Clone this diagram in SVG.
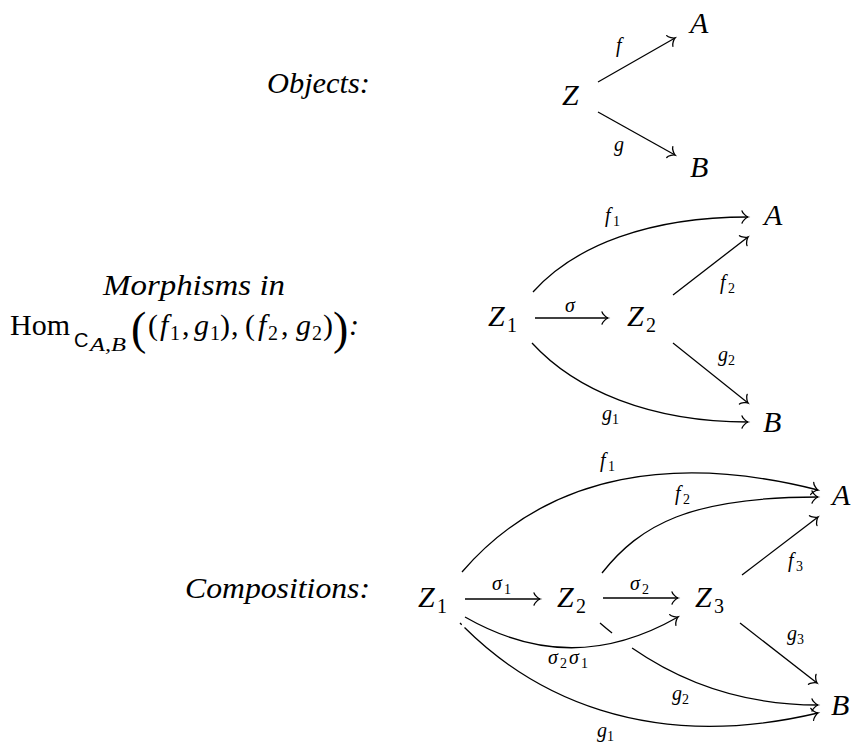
<svg xmlns="http://www.w3.org/2000/svg" width="859" height="747" viewBox="0 0 859 747">
<style>
text{font-family:"Liberation Serif","Times New Roman",serif;fill:#000}
.it{font-style:italic}
.node{font-size:30px;font-style:italic}
.sub{font-size:20px;font-style:normal}
.lab{font-size:20px;font-style:italic}
.lsub{font-size:14px;font-style:normal}
.head{font-size:29px;font-style:italic}
.edge{fill:none;stroke:#000;stroke-width:1.3}
.arr{marker-end:url(#to)}
</style>
<defs>
<marker id="to" markerUnits="userSpaceOnUse" markerWidth="20" markerHeight="20" viewBox="-10 -10 20 20" refX="0" refY="0" orient="auto" overflow="visible">
<path d="M-6,-6.2 C-5.6,-3.8 -1.4,-0.4 0,0 C-1.4,0.4 -5.6,3.8 -6,6.2" fill="none" stroke="#000" stroke-width="1.3" stroke-linecap="round"/>
</marker>
</defs>
<rect width="859" height="747" fill="#fff"/>

<g id="row-labels">
<text class="head" x="370" y="93" text-anchor="end" textLength="103" lengthAdjust="spacingAndGlyphs">Objects:</text>
<text class="head" x="103" y="295" textLength="182" lengthAdjust="spacingAndGlyphs">Morphisms in</text>
<g id="hom-label">
<text x="10" y="335" font-size="30">Hom</text>
<text x="74" y="347" font-size="20" style="font-family:'Liberation Sans',Arial,sans-serif">C</text>
<text x="90" y="351" font-size="18" class="it" textLength="36" lengthAdjust="spacingAndGlyphs">A,B</text>
<text x="131" y="344" font-size="46">(</text>
<text x="148" y="335" font-size="30">(</text>
<text x="160" y="335" font-size="30" class="it">f</text>
<text x="170" y="340" font-size="20">1</text>
<text x="182" y="335" font-size="30">,</text>
<text x="194" y="335" font-size="30" class="it">g</text>
<text x="210" y="340" font-size="20">1</text>
<text x="220" y="335" font-size="30">)</text>
<text x="231" y="335" font-size="30">,</text>
<text x="245" y="335" font-size="30">(</text>
<text x="258" y="335" font-size="30" class="it">f</text>
<text x="268" y="340" font-size="20">2</text>
<text x="281" y="335" font-size="30">,</text>
<text x="296" y="335" font-size="30" class="it">g</text>
<text x="312" y="340" font-size="20">2</text>
<text x="323" y="335" font-size="30">)</text>
<text x="333" y="344" font-size="46">)</text>
<text x="349" y="335" font-size="30" class="it">:</text>
</g>
<text class="head" x="370" y="598" text-anchor="end" textLength="185" lengthAdjust="spacingAndGlyphs">Compositions:</text>
</g>

<g id="obj-Z"><text class="node" x="562" y="105">Z</text></g>
<g id="obj-A"><text class="node" x="690" y="33">A</text></g>
<g id="obj-B"><text class="node" x="690" y="177">B</text></g>

<g id="mor-Z1"><text class="node" x="488" y="326">Z</text><text class="sub" x="507" y="332">1</text></g>
<g id="mor-Z2"><text class="node" x="627" y="326">Z</text><text class="sub" x="646" y="332">2</text></g>
<g id="mor-A"><text class="node" x="764" y="225">A</text></g>
<g id="mor-B"><text class="node" x="763" y="432">B</text></g>

<g id="comp-Z1"><text class="node" x="418" y="607">Z</text><text class="sub" x="437" y="613">1</text></g>
<g id="comp-Z2"><text class="node" x="557" y="607">Z</text><text class="sub" x="576" y="613">2</text></g>
<g id="comp-Z3"><text class="node" x="695" y="607">Z</text><text class="sub" x="714" y="613">3</text></g>
<g id="comp-A"><text class="node" x="832" y="505">A</text></g>
<g id="comp-B"><text class="node" x="831" y="715">B</text></g>

<g id="connectors">
<path class="edge arr" d="M598,82 L675,38"/>
<path class="edge arr" d="M598,112 L675,155"/>
<text class="lab" x="616" y="52">f</text>
<text class="lab" x="614" y="151">g</text>

<path class="edge arr" d="M535,318 L608,318"/>
<path class="edge arr" d="M533,292 C575,245 650,217 748,217"/>
<path class="edge arr" d="M532,343 C575,390 650,422 748,422"/>
<path class="edge arr" d="M673,295 L748,237"/>
<path class="edge arr" d="M673,343 L748,403"/>
<text class="lab" x="565" y="312">σ</text>
<text class="lab" x="605" y="222">f</text><text class="lsub" x="613" y="226">1</text>
<text class="lab" x="720" y="289">f</text><text class="lsub" x="728" y="293">2</text>
<text class="lab" x="718" y="361">g</text><text class="lsub" x="728" y="365">2</text>
<text class="lab" x="602" y="420">g</text><text class="lsub" x="612" y="424">1</text>

<path class="edge arr" d="M465,599 L540,599"/>
<path class="edge arr" d="M603,598 L678,598"/>
<path class="edge arr" d="M462,572 C550,470 680,455 818,490"/>
<path class="edge arr" d="M602,573 C640,525 690,497 818,497"/>
<path class="edge arr" d="M742,575 L818,517"/>
<path class="edge arr" d="M740,623 L817,683"/>
<path class="edge arr" d="M600,623 C660,675 730,705 818,705" stroke-dasharray="15.6 25 2000"/>
<path class="edge arr" d="M460,623 C525,690 640,755 818,713" stroke-dasharray="2.5 4 2000"/>
<path class="edge arr" d="M465,617 C537,658 606,658 678,617"/>
<text class="lab" x="492" y="590">σ</text><text class="lsub" x="504" y="594">1</text>
<text class="lab" x="630" y="590">σ</text><text class="lsub" x="642" y="594">2</text>
<text class="lab" x="600" y="467">f</text><text class="lsub" x="608" y="471">1</text>
<text class="lab" x="675" y="500">f</text><text class="lsub" x="683" y="504">2</text>
<text class="lab" x="788" y="567">f</text><text class="lsub" x="796" y="571">3</text>
<text class="lab" x="787" y="640">g</text><text class="lsub" x="797" y="644">3</text>
<text class="lab" x="548" y="664">σ</text><text class="lsub" x="560" y="668">2</text><text class="lab" x="569" y="664">σ</text><text class="lsub" x="581" y="668">1</text>
<text class="lab" x="672" y="700">g</text><text class="lsub" x="682" y="704">2</text>
<text class="lab" x="597" y="737">g</text><text class="lsub" x="607" y="741">1</text>
</g>
</svg>
